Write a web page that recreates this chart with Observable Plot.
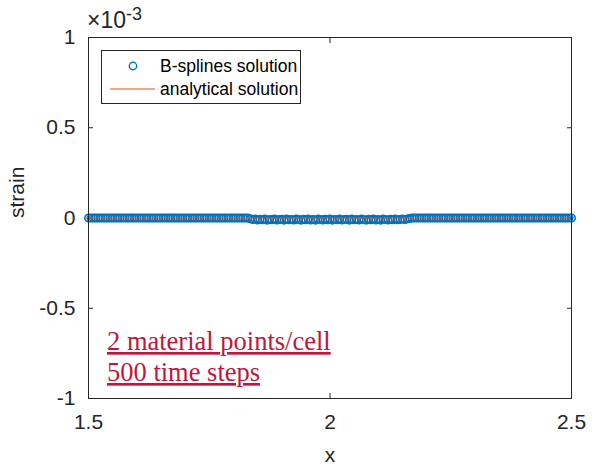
<!DOCTYPE html>
<html>
<head>
<meta charset="utf-8">
<script src="https://cdn.jsdelivr.net/npm/d3@7"></script>
<script src="https://cdn.jsdelivr.net/npm/@observablehq/plot@0.6"></script>
<style>
  body { margin: 0; background: #fff; }
  svg { display: block; }
</style>
</head>
<body>
<div id="chart"></div>
<script>
// Material point positions (2 points per cell)
const pointX = [
  1.500,1.505,1.510,1.515,1.520,1.525,1.530,1.535,1.540,1.545,
  1.550,1.555,1.560,1.565,1.570,1.575,1.580,1.585,1.590,1.595,
  1.600,1.605,1.610,1.615,1.620,1.625,1.630,1.635,1.640,1.645,
  1.650,1.655,1.660,1.665,1.670,1.675,1.680,1.685,1.690,1.695,
  1.700,1.705,1.710,1.715,1.720,1.725,1.730,1.735,1.740,1.745,
  1.750,1.755,1.760,1.765,1.770,1.775,1.780,1.785,1.790,1.795,
  1.800,1.805,1.810,1.815,1.820,1.825,1.830,1.835,1.840,1.845,
  1.850,1.855,1.860,1.865,1.870,1.875,1.880,1.885,1.890,1.895,
  1.900,1.905,1.910,1.915,1.920,1.925,1.930,1.935,1.940,1.945,
  1.950,1.955,1.960,1.965,1.970,1.975,1.980,1.985,1.990,1.995,
  2.000,2.005,2.010,2.015,2.020,2.025,2.030,2.035,2.040,2.045,
  2.050,2.055,2.060,2.065,2.070,2.075,2.080,2.085,2.090,2.095,
  2.100,2.105,2.110,2.115,2.120,2.125,2.130,2.135,2.140,2.145,
  2.150,2.155,2.160,2.165,2.170,2.175,2.180,2.185,2.190,2.195,
  2.200,2.205,2.210,2.215,2.220,2.225,2.230,2.235,2.240,2.245,
  2.250,2.255,2.260,2.265,2.270,2.275,2.280,2.285,2.290,2.295,
  2.300,2.305,2.310,2.315,2.320,2.325,2.330,2.335,2.340,2.345,
  2.350,2.355,2.360,2.365,2.370,2.375,2.380,2.385,2.390,2.395,
  2.400,2.405,2.410,2.415,2.420,2.425,2.430,2.435,2.440,2.445,
  2.450,2.455,2.460,2.465,2.470,2.475,2.480,2.485,2.490,2.495,
  2.500
];

// B-splines strain at each material point, in units of 1e-3
const splineStrain = [
  0,0,0,0,0,0,0,0,0,0,
  0,0,0,0,0,0,0,0,0,0,
  0,0,0,0,0,0,0,0,0,0,
  0,0,0,0,0,0,0,0,0,0,
  0,0,0,0,0,0,0,0,0,0,
  0,0,0,0,0,0,0,0,0,0,
  0,0,0,0,0,0,0,
  -0.004,-0.009,-0.006,-0.011,-0.007,-0.010,-0.005,-0.012,-0.008,-0.010,
  -0.006,-0.011,-0.009,-0.007,-0.012,-0.006,-0.010,-0.008,-0.011,-0.005,
  -0.009,-0.012,-0.007,-0.010,-0.006,-0.011,-0.008,-0.012,-0.006,-0.009,
  -0.011,-0.007,-0.010,-0.005,-0.012,-0.008,-0.010,-0.006,-0.011,-0.009,
  -0.007,-0.012,-0.006,-0.010,-0.008,-0.011,-0.005,-0.009,-0.012,-0.007,
  -0.010,-0.006,-0.011,-0.008,-0.012,-0.006,-0.009,-0.011,-0.007,-0.010,
  -0.005,-0.010,-0.008,-0.006,-0.009,-0.005,-0.003,
  0,0,0,0,0,0,0,0,0,0,
  0,0,0,0,0,0,0,0,0,0,
  0,0,0,0,0,0,0,0,0,0,
  0,0,0,0,0,0,0,0,0,0,
  0,0,0,0,0,0,0,0,0,0,
  0,0,0,0,0,0,0,0,0,0,
  0,0,0,0,0,0,0
];

// Analytical solution (zero strain), in units of 1e-3
const analyticalX = [1.5, 2.5];
const analyticalStrain = [0, 0];

const xTicks = [1.5, 2, 2.5];
const yTicks = [-1, -0.5, 0, 0.5, 1];
const legendLabels = ["B-splines solution", "analytical solution"];
const noteLines = ["2 material points/cell", "500 time steps"];

const blue = "#0072BD";
const orange = "#D95319";
const axisColor = "#262626";
const noteColor = "#c0163c";

const points = pointX.map((x, i) => ({x, strain: splineStrain[i]}));
const analytical = analyticalX.map((x, i) => ({x, strain: analyticalStrain[i]}));

const sans = "'Liberation Sans', Arial, Helvetica, sans-serif";

const svg = Plot.plot({
  width: 595,
  height: 464,
  marginLeft: 88,
  marginRight: 24,
  marginTop: 37,
  marginBottom: 66,
  style: {fontFamily: sans, fontSize: "21px", color: axisColor, background: "#fff", overflow: "visible"},
  x: {domain: [1.5, 2.5], label: null},
  y: {domain: [-1, 1], label: null},
  marks: [
    Plot.axisX({anchor: "bottom", ticks: xTicks, tickSize: -5, tickPadding: 21, tickFormat: d => String(d), label: null, fontSize: 21}),
    Plot.axisX({anchor: "top", ticks: xTicks, tickSize: -5, tickFormat: () => "", label: null}),
    Plot.axisY({anchor: "left", ticks: yTicks, tickSize: -5, tickPadding: 18, tickFormat: d => String(d), label: null, fontSize: 21}),
    Plot.axisY({anchor: "right", ticks: yTicks, tickSize: -5, tickFormat: () => "", label: null}),
    Plot.dot(points, {x: "x", y: "strain", r: 3.7, stroke: blue, strokeWidth: 1.6, fill: "none"}),
    Plot.line(analytical, {x: "x", y: "strain", stroke: orange, strokeWidth: 1}),
    Plot.frame({stroke: axisColor, strokeWidth: 1}),
    Plot.text(["strain"], {frameAnchor: "left", dx: -71, rotate: -90, fontSize: 21, fill: axisColor}),
    Plot.text(["x"], {frameAnchor: "bottom", dy: 63, fontSize: 21, fill: axisColor})
  ]
});

const root = d3.select(svg);

// Exponent label above the y axis
const expo = root.append("text")
  .attr("x", 87).attr("y", 28).attr("text-anchor", "start")
  .attr("font-family", sans).attr("font-size", 23).attr("fill", axisColor);
expo.append("tspan").text("×10");
expo.append("tspan").attr("dy", -8).attr("font-size", 18).text("-3");

// Legend box
const legend = root.append("g")
  .attr("font-family", sans).attr("font-size", 17.5).attr("fill", "#000")
  .attr("text-anchor", "start");
legend.append("rect")
  .attr("x", 101.5).attr("y", 50.5).attr("width", 199).attr("height", 53)
  .attr("fill", "#fff").attr("stroke", axisColor).attr("stroke-width", 1);
legend.append("circle")
  .attr("cx", 133).attr("cy", 66).attr("r", 3.7)
  .attr("fill", "none").attr("stroke", blue).attr("stroke-width", 1.4);
legend.append("line")
  .attr("x1", 110).attr("x2", 155).attr("y1", 89).attr("y2", 89)
  .attr("stroke", orange).attr("stroke-width", 1);
legend.append("text").attr("x", 160).attr("y", 72).text(legendLabels[0]);
legend.append("text").attr("x", 160).attr("y", 95).text(legendLabels[1]);

// Run annotation
const note = root.append("g")
  .attr("font-family", "'Liberation Serif', 'Times New Roman', serif")
  .attr("font-size", 26.5).attr("fill", noteColor)
  .attr("text-anchor", "start")
  .style("text-decoration", "underline");
note.append("text").attr("x", 107).attr("y", 350).text(noteLines[0]);
note.append("text").attr("x", 107).attr("y", 381).text(noteLines[1]);

document.getElementById("chart").appendChild(svg);
</script>
</body>
</html>
